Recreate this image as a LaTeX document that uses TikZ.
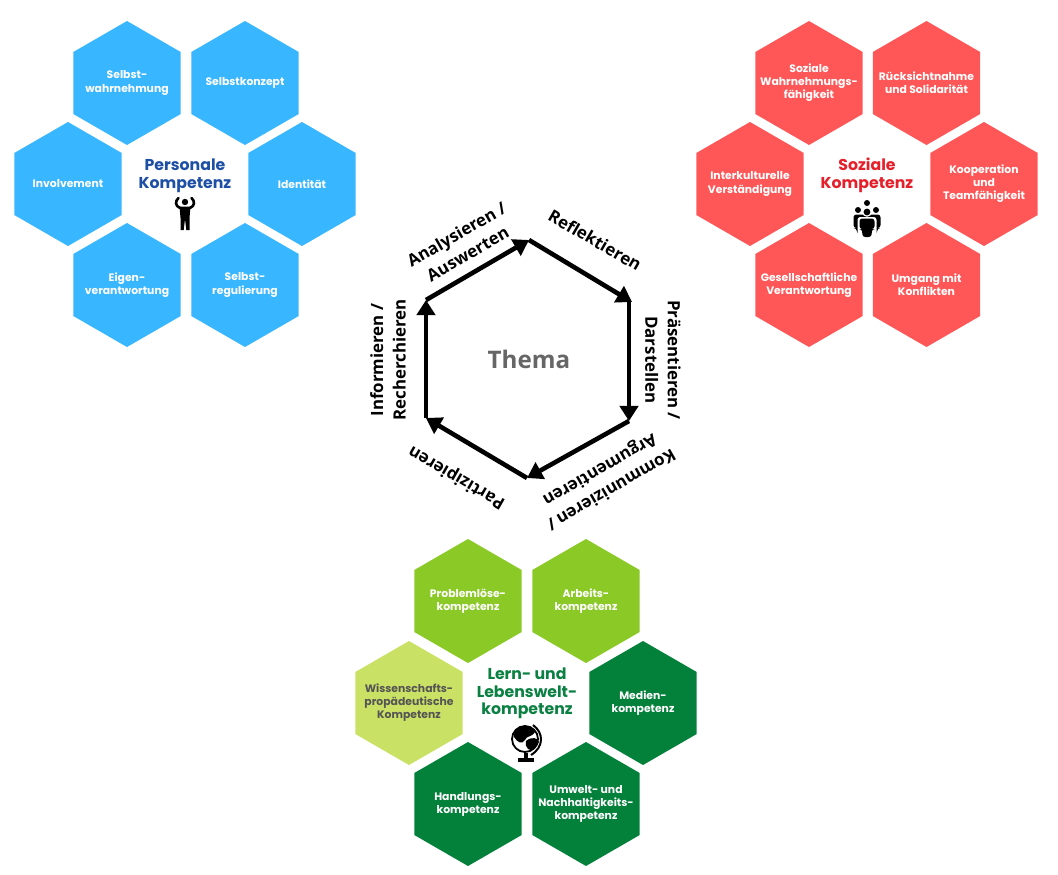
\documentclass[tikz,border=0pt]{standalone}
\usepackage{fontspec}
\usepackage{xcolor}
\usepackage{tikz}
\usetikzlibrary{
    arrows.meta,
    shapes.geometric
}
\setmainfont{Poppins}
\newfontfamily\ringfont{Open Sans}
\definecolor{persblue}{HTML}{38B6FF}
\definecolor{perstitle}{HTML}{1D4FA5}
\definecolor{sozred}{HTML}{FF5757}
\definecolor{soztitle}{HTML}{E5202A}
\definecolor{lernlight}{HTML}{8AC926}
\definecolor{lerndark}{HTML}{03803A}
\definecolor{lernpale}{HTML}{C9E265}
\definecolor{lerntext}{HTML}{545454}
\definecolor{lerntitle}{HTML}{0B8043}
\tikzset{
    hexcell/.style={
        regular polygon,
        regular polygon sides=6,
        shape border rotate=30,
        minimum size=31mm,
        inner sep=0pt,
        outer sep=0pt
    }
}
\tikzset{
    hextext/.style={
        align=center,
        inner sep=0pt,
        text=white,
        font=\fontsize{7.7}{9.3}\selectfont\bfseries
    }
}
\tikzset{
    hextitle/.style={
        align=center,
        inner sep=0pt,
        font=\fontsize{11.2}{12.6}\selectfont\bfseries
    }
}
\tikzset{
    ringarrow/.style={
        draw=black,
        line width=1.15mm,
        -{Triangle[length=3.8mm,width=4.6mm]}
    }
}
\tikzset{
    ringlabel/.style={
        align=center,
        inner sep=0pt,
        font=\ringfont\fontsize{12}{16}\selectfont\bfseries
    }
}

\begin{document}
\begin{tikzpicture}[x=0.25mm, y=-0.25mm]

\useasboundingbox (0,0) rectangle (1058,874);

% ------------------------------------------------------------
% Personale Kompetenz
% ------------------------------------------------------------

\node[hexcell, fill=persblue, label={[hextext]center:Selbst-\\wahrnehmung}] (selbstwahr) at (127,83) {};
\node[hexcell, fill=persblue, label={[hextext]center:Selbstkonzept}] (selbstkon) at (245,83) {};
\node[hexcell, fill=persblue, label={[hextext]center:Involvement}] (involve) at (68,184) {};
\node[hexcell, fill=persblue, label={[hextext]center:Identität}] (ident) at (302,184) {};
\node[hexcell, fill=persblue, label={[hextext]center:Eigen-\\verantwortung}] (eigen) at (127,285) {};
\node[hexcell, fill=persblue, label={[hextext]center:Selbst-\\regulierung}] (selbstreg) at (245,285) {};
\node[hextitle, text=perstitle] (perstitle) at (185,175.5) {Personale\\Kompetenz};

% person with raised arms
\fill (185,202) circle (3.2);
\fill (179.5,206.5) -- (190.5,206.5) -- (189.5,218) -- (189.5,230) -- (186.3,230) -- (185,219)
    -- (183.7,230) -- (180.5,230) -- (180.5,218) -- cycle;
\draw[line width=0.65mm, line cap=round] (180,208) .. controls (175,206) and (175,201) .. (178.5,198);
\draw[line width=0.65mm, line cap=round] (190,208) .. controls (195,206) and (195,201) .. (191.5,198);

% ------------------------------------------------------------
% Soziale Kompetenz
% ------------------------------------------------------------

\node[hexcell, fill=sozred, label={[hextext]center:Soziale\\Wahrnehmungs-\\fähigkeit}] (wahrnehm) at (809,83) {};
\node[hexcell, fill=sozred, label={[hextext]center:Rücksichtnahme\\und Solidarität}] (ruecksicht) at (926.5,83) {};
\node[hexcell, fill=sozred, label={[hextext]center:Interkulturelle\\Verständigung}] (interkult) at (750,184) {};
\node[hexcell, fill=sozred, label={[hextext]center:Kooperation\\und\\Teamfähigkeit}] (kooperation) at (984,184) {};
\node[hexcell, fill=sozred, label={[hextext]center:Gesellschaftliche\\Verantwortung}] (gesellschaft) at (809,285) {};
\node[hexcell, fill=sozred, label={[hextext]center:Umgang mit\\Konflikten}] (konflikt) at (926.5,285) {};
\node[hextitle, text=soztitle] (soztitle) at (867,175.5) {Soziale\\Kompetenz};

% group of people
\fill (867,203) circle (3);
\fill (858,210) circle (3);
\fill (876,210) circle (3);
\fill[rounded corners=2pt] (853.5,214.5) -- (880.5,214.5) -- (880.5,228) -- (877.5,228)
    -- (877,234) -- (857,234) -- (856.5,228) -- (853.5,228) -- cycle;
\fill[white] (867,212) circle (4.8);
\fill (867,212) circle (3.4);
\fill[white, rounded corners=2pt] (857.5,217) rectangle (876.5,238);
\fill[rounded corners=2pt] (859.5,218.5) -- (874.5,218.5) -- (874.5,229) -- (872,229)
    -- (871.5,237) -- (862.5,237) -- (862,229) -- (859.5,229) -- cycle;

% ------------------------------------------------------------
% Lern- und Lebensweltkompetenz
% ------------------------------------------------------------

\node[hexcell, fill=lernlight, label={[hextext]center:Problemlöse-\\kompetenz}] (problem) at (468,601) {};
\node[hexcell, fill=lernlight, label={[hextext]center:Arbeits-\\kompetenz}] (arbeit) at (586,601) {};
\node[hexcell, fill=lernpale, label={[hextext, text=lerntext]center:Wissenschafts-\\propädeutische\\Kompetenz}] (wissen) at (409,703) {};
\node[hexcell, fill=lerndark, label={[hextext]center:Medien-\\kompetenz}] (medien) at (643,703) {};
\node[hexcell, fill=lerndark, label={[hextext]center:Handlungs-\\kompetenz}] (handlung) at (468,804) {};
\node[hexcell, fill=lerndark, label={[hextext]center:Umwelt- und\\Nachhaltigkeits-\\kompetenz}] (umwelt) at (586,804) {};
\node[hextitle, text=lerntitle] (lerntitle) at (527,693.5) {Lern- und\\Lebenswelt-\\kompetenz};

% globe
\draw[line width=0.45mm, fill=white] (525,739) circle (13);
\fill (519,728) .. controls (526,724) and (532,727) .. (535,732) .. controls (531,738) and (527,735) .. (525,740)
    .. controls (522,745) and (517,742) .. (514,737) .. controls (513,733) and (516,730) .. cycle;
\fill (526,741) .. controls (532,736) and (538,738) .. (539,742) .. controls (537,748) and (531,752) .. (528,749) .. controls (526,747) and (525,744) .. cycle;
\draw[line width=0.5mm] (533,725) .. controls (544,733) and (544,747) .. (531,755);
\draw[line width=0.8mm] (526,753) -- (526,759);
\draw[line width=0.8mm] (518,760) -- (534,760);

% ------------------------------------------------------------
% Thema ring
% ------------------------------------------------------------

\coordinate (ringtop) at (529,240);
\coordinate (ringrighttop) at (632,302);
\coordinate (ringrightend) at (629,300);
\coordinate (ringrightbot) at (629,421);
\coordinate (ringbot) at (527,478);
\coordinate (ringleftbot) at (426,418);
\coordinate (ringlefttop) at (426,300);

\draw[ringarrow] (ringleftbot) -- (ringlefttop);
\draw[ringarrow] (ringlefttop) -- (ringtop);
\draw[ringarrow] (ringtop) -- (ringrighttop);
\draw[ringarrow] (ringrightend) -- (ringrightbot);
\draw[ringarrow] (ringrightbot) -- (ringbot);
\draw[ringarrow] (ringbot) -- (ringleftbot);

\node[font=\ringfont\fontsize{17.2}{20}\selectfont\bfseries, text=black!60, inner sep=0pt] (thema) at (529,359) {Thema};

\node[ringlabel, rotate=30] (analysieren) at (462,244) {Analysieren /\\Auswerten};
\node[ringlabel, rotate=-30] (reflektieren) at (595,240) {Reflektieren};
\node[ringlabel, rotate=-90] (praesentieren) at (663,360) {Präsentieren /\\Darstellen};
\node[ringlabel, rotate=210] (kommunizieren) at (605,479) {Kommunizieren /\\Argumentieren};
\node[ringlabel, rotate=150] (partizipieren) at (457,477) {Partizipieren};
\node[ringlabel, rotate=90] (informieren) at (388,360) {Informieren /\\Recherchieren};

\end{tikzpicture}
\end{document}
